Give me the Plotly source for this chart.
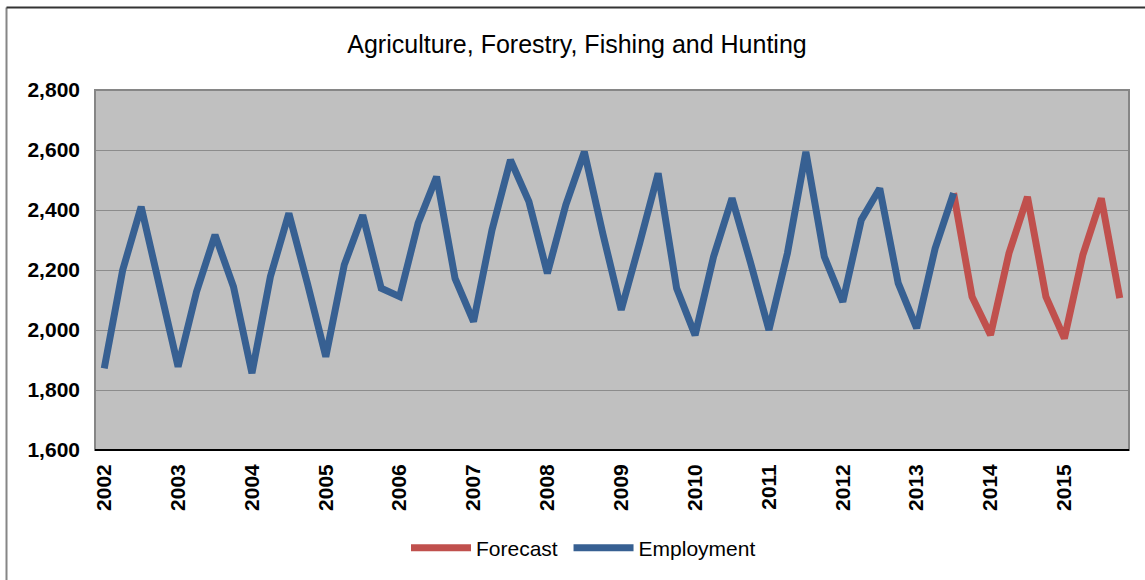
import plotly.graph_objects as go

years = list(range(2002, 2016))
quarters = [f"{y} Q{q}" for y in years for q in range(1, 5)]

employment = [1872, 2200, 2411, 2150, 1878, 2128, 2317, 2144, 1856, 2178,
              2389, 2156, 1911, 2217, 2383, 2139, 2111, 2356, 2511, 2172,
              2028, 2333, 2567, 2428, 2189, 2417, 2594, 2322, 2067, 2290,
              2522, 2139, 1983, 2244, 2439, 2225, 2000, 2256, 2594, 2244,
              2094, 2367, 2472, 2156, 2006, 2272, 2456]
# forecast starts at the last employment quarter (2013 Q3)
forecast = [2456, 2111, 1983, 2256, 2444, 2111, 1972, 2250, 2439, 2106]

emp_x = quarters[:len(employment)]
fc_x = quarters[len(employment) - 1:len(employment) - 1 + len(forecast)]

BLUE = "#376092"
RED = "#C0504D"
FONT = "Liberation Sans, Arial, sans-serif"

fig = go.Figure()
fig.add_trace(go.Scatter(x=fc_x, y=forecast, mode="lines", name="Forecast\u00a0",
                         line=dict(color=RED, width=7), legendrank=1))
fig.add_trace(go.Scatter(x=emp_x, y=employment, mode="lines", name="Employment",
                         line=dict(color=BLUE, width=7), legendrank=2))

W, H = 1145, 580
L, R, T, B = 95, 16, 90, 130
pw, ph = W - L - R, H - T - B

def px(x):
    return (x - L) / pw

def py(y):
    return (H - B - y) / ph

fig.update_layout(
    width=W, height=H,
    margin=dict(l=L, r=R, t=T, b=B),
    paper_bgcolor="white",
    plot_bgcolor="#C0C0C0",
    font=dict(family=FONT, color="black"),
    title=dict(text="Agriculture, Forestry, Fishing and Hunting",
               font=dict(size=25, family=FONT, color="black"),
               x=577 / W, xref="container", xanchor="center",
               y=1 - 44 / H, yref="container", yanchor="middle"),
    showlegend=True,
    legend=dict(orientation="h", x=px(406), xanchor="left",
                y=py(548), yanchor="middle",
                font=dict(size=21, family=FONT), itemwidth=60,
                traceorder="normal", bgcolor="rgba(0,0,0,0)"),
    xaxis=dict(type="category", categoryorder="array", categoryarray=quarters,
               range=[-0.5, len(quarters) - 0.5],
               tickmode="array",
               tickvals=[f"{y} Q1" for y in years],
               ticktext=[str(y) for y in years],
               tickangle=-90, showgrid=False, zeroline=False,
               ticks="", ticklabelstandoff=9,
               tickfont=dict(size=21, family=FONT, color="black", weight="bold"),
               showline=False),
    yaxis=dict(range=[1600, 2800], dtick=200, tickformat=",d",
               showgrid=True, gridcolor="#8C8C8C", gridwidth=1,
               zeroline=False, ticks="", ticklabelstandoff=14,
               tickfont=dict(size=21, family=FONT, color="black", weight="bold"),
               showline=False),
    shapes=[
        # plot area border
        dict(type="rect", xref="paper", yref="paper", x0=0, x1=1, y0=0, y1=1,
             line=dict(color="#868686", width=2), layer="above"),
        # bottom axis line
        dict(type="line", xref="paper", yref="paper", x0=0, x1=1, y0=0, y1=0,
             line=dict(color="black", width=2), layer="above"),
        # chart area border (left and top visible)
        dict(type="line", xref="paper", yref="paper", x0=px(6.5), x1=px(6.5),
             y0=py(7.5), y1=py(600), line=dict(color="#868686", width=2)),
        dict(type="line", xref="paper", yref="paper", x0=px(6.5), x1=px(1160),
             y0=py(7.5), y1=py(7.5), line=dict(color="#333333", width=2)),
    ],
)

fig.write_html("out.html")
